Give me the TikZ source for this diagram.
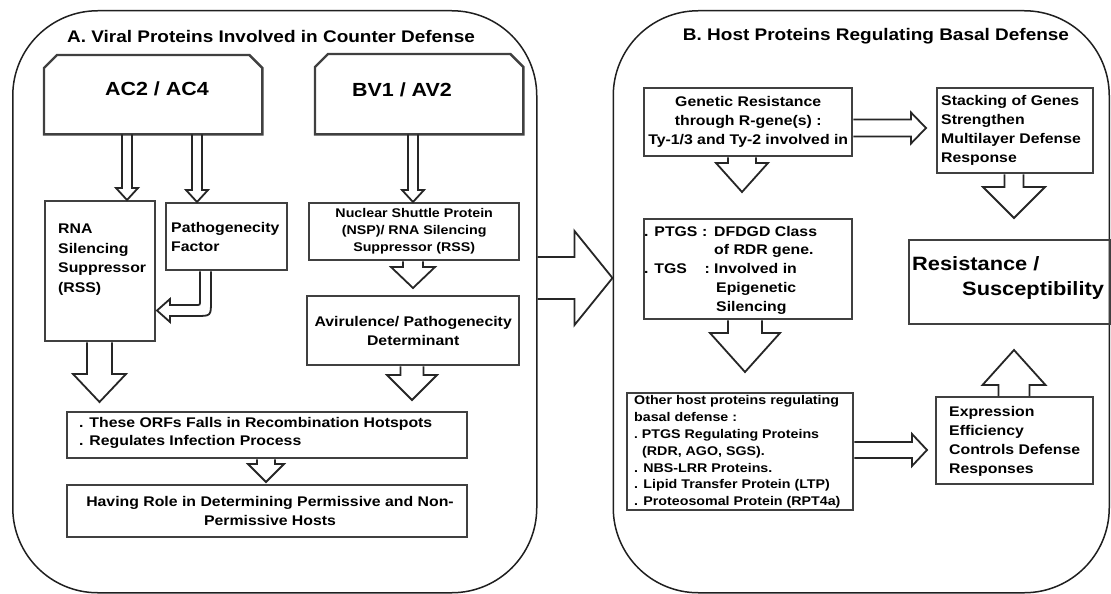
\documentclass[tikz,border=0pt]{standalone}
\usepackage{fontspec}
\setmainfont{Liberation Sans}[FakeStretch=1.13]
\usetikzlibrary{calc}
\newcommand\fsz[2]{\fontsize{#1}{#2}\selectfont\bfseries}
% vertical block arrow: from, to(tip), shaft half, head half, head length
\newcommand\varr[5]{\draw[blk] let \p1=(#1), \p2=(#2), \n1={sign(\y2-\y1)} in
 (\x2-#3pt,\y1) -- (\x2-#3pt,{\y2-(\n1)*#5pt}) -- (\x2-#4pt,{\y2-(\n1)*#5pt}) -- (\x2,\y2)
 -- (\x2+#4pt,{\y2-(\n1)*#5pt}) -- (\x2+#3pt,{\y2-(\n1)*#5pt}) -- (\x2+#3pt,\y1);}
% horizontal block arrow
\newcommand\harr[5]{\draw[blk] let \p1=(#1), \p2=(#2), \n1={sign(\x2-\x1)} in
 (\x1,\y2+#3pt) -- ({\x2-(\n1)*#5pt},\y2+#3pt) -- ({\x2-(\n1)*#5pt},\y2+#4pt) -- (\x2,\y2)
 -- ({\x2-(\n1)*#5pt},\y2-#4pt) -- ({\x2-(\n1)*#5pt},\y2-#3pt) -- (\x1,\y2-#3pt);}
\begin{document}
\begin{tikzpicture}[x=1pt,y=-1pt,
  panel/.style={draw=black!88, line width=1.5pt, rounded corners=85pt, anchor=north west, inner sep=0pt},
  box/.style={draw=black!75, line width=2.4pt, anchor=north west, inner sep=0pt},
  boxline/.style={draw=black!75, line width=2.4pt, line join=miter},
  blk/.style={draw=black!85, line width=1.8pt, line join=miter},
  txt/.style={inner sep=0pt, text=black}]
\useasboundingbox (0,0) rectangle (1111,594);
\fill[white] (0,0) rectangle (1111,594);

% panels
\node[panel, minimum width=524, minimum height=582] (pa) at (12,10) {};
\node[panel, minimum width=496, minimum height=582] (pb) at (612.5,10) {};
\node[txt] (ta) at (271,36) {\fsz{16.8}{20}A. Viral Proteins Involved in Counter Defense};
\node[txt] (tb) at (876,36) {\fsz{16.8}{20}B. Host Proteins Regulating Basal Defense};

% ---------- panel A ----------
\node[box, draw=none, minimum width=216, minimum height=77] (ac2) at (44,55) {};
\draw[boxline] (ac2.south west) -- ($(ac2.north west)+(0,13)$) -- ($(ac2.north west)+(13,0)$)
  -- ($(ac2.north east)+(-13,0)$) -- ($(ac2.north east)+(0,13)$) -- (ac2.south east) -- cycle;
\node[txt] (ac2t) at (157,88.5) {\fsz{19}{22}AC2 / AC4};

\node[box, draw=none, minimum width=206, minimum height=78] (bv1) at (315,54) {};
\draw[boxline] (bv1.south west) -- ($(bv1.north west)+(0,13)$) -- ($(bv1.north west)+(13,0)$)
  -- ($(bv1.north east)+(-13,0)$) -- ($(bv1.north east)+(0,13)$) -- (bv1.south east) -- cycle;
\node[txt] (bv1t) at (402,89.5) {\fsz{19}{22}BV1 / AV2};

\node[box, minimum width=110, minimum height=140] (rss) at (44,200) {};
\node[txt, anchor=west, align=left, font=\fsz{14}{19.6}] (rsst) at (58,259.5) {RNA\\Silencing\\Suppressor\\(RSS)};

\node[box, minimum width=121, minimum height=67] (pf) at (165,202) {};
\node[txt, anchor=west, align=left, font=\fsz{14}{19}] (pft) at (171,237) {Pathogenecity\\Factor};

\node[box, minimum width=210, minimum height=57, align=center, font=\fsz{12.6}{17}] (nsp) at (308,202)
  {Nuclear Shuttle Protein\\(NSP)/ RNA Silencing\\Suppressor (RSS)};

\node[box, minimum width=212, minimum height=69, align=center, font=\fsz{14}{19}] (avir) at (306,295)
  {Avirulence/ Pathogenecity\\Determinant};

\node[box, minimum width=400, minimum height=46] (orf) at (66,411) {};
\node[txt, anchor=west, align=left, font=\fsz{14}{18.5}] (orft) at (79,433)
  {. These ORFs Falls in Recombination Hotspots\\. Regulates Infection Process};

\node[box, minimum width=400, minimum height=52] (hav) at (66,484) {};
\node[txt, align=center, font=\fsz{14}{19.5}] (havt) at (270,511)
  {Having Role in Determining Permissive and Non-\\Permissive Hosts};

% arrows panel A
\coordinate (t4) at (413,288);
\coordinate (t5) at (412,400);
\coordinate (t6) at (99.5,402);
\coordinate (t7) at (266,482);
\varr{ac2.south -| 127,0}{rss.north -| 127,0}{5}{11}{12}
\varr{ac2.south -| 197,0}{pf.north -| 197,0}{5}{11}{12}
\varr{bv1.south -| 413,0}{nsp.north -| 413,0}{5}{11}{12}
\varr{nsp.south -| 413,0}{t4}{10}{22}{21}
\varr{avir.south -| 412,0}{t5}{11.5}{25}{25}
\varr{rss.south -| 99.5,0}{t6}{12.5}{26.5}{28}
\varr{orf.south -| 266,0}{t7}{9}{18}{18}
\draw[blk] (pf.south -| 200,0) -- (200,301) .. controls (200,305) .. (196,305) -- (170,305) -- (170,299)
  -- (157,310.5) -- (170,322) -- (170,316) -- (196,316) .. controls (211,316) .. (211,301) -- (pf.south -| 211,0);

% big arrow between panels
\harr{pa.east |- 0,278}{pb.west |- 0,278}{21}{47}{38}

% ---------- panel B ----------
\node[box, minimum width=208, minimum height=68, align=center, font=\fsz{14}{19}] (gen) at (643,87)
  {Genetic Resistance\\through R-gene(s) :\\Ty-1/3 and Ty-2 involved in};

\node[box, minimum width=156, minimum height=85] (stk) at (936,87) {};
\node[txt, anchor=west, align=left, font=\fsz{14}{19}] (stkt) at (941,130)
  {Stacking of Genes\\Strengthen\\Multilayer Defense\\Response};

\node[box, minimum width=208, minimum height=100] (ptgs) at (643,218) {};
\node[txt, anchor=west, align=left, font=\fsz{14}{18.75}] (ptgst) at (644,270)
  {\makebox[58pt][l]{. PTGS}\makebox[12pt][l]{:}DFDGD Class\\
   \hspace*{70pt}of RDR gene.\\
   \makebox[58pt][l]{. TGS}\makebox[12pt][l]{\,:}Involved in\\
   \hspace*{72pt}Epigenetic\\
   \hspace*{72pt}Silencing};

\node[box, minimum width=200.5, minimum height=84] (res) at (908,239) {};
\node[txt, anchor=west, align=left, font=\fsz{19.3}{25}] (rest) at (912,278.5)
  {Resistance /\\\hspace*{50pt}Susceptibility};

\node[box, minimum width=226, minimum height=117] (oth) at (626,392) {};
\node[txt, anchor=west, align=left, font=\fsz{12.6}{16.8}] (otht) at (634,452)
  {Other host proteins regulating\\basal defense :\\{\large.}\ PTGS Regulating Proteins\\
   \hspace*{8pt}(RDR, AGO, SGS).\\. NBS-LRR Proteins.\\. Lipid Transfer Protein (LTP)\\. Proteosomal Protein (RPT4a)};

\node[box, minimum width=157, minimum height=87] (exp) at (935,396) {};
\node[txt, anchor=west, align=left, font=\fsz{14}{19}] (expt) at (949,441)
  {Expression\\Efficiency\\Controls Defense\\Responses};

% arrows panel B
\coordinate (u8) at (926,128);
\coordinate (u9) at (742,192);
\coordinate (u10) at (1014,218);
\coordinate (u11) at (745,372);
\coordinate (u12) at (927,450);
\coordinate (u13) at (1014,350);
\harr{gen.east |- 0,128}{u8}{8.5}{15.5}{15}
\varr{gen.south -| 742,0}{u9}{14}{26}{29}
\varr{stk.south -| 1014,0}{u10}{9.5}{31}{31}
\varr{ptgs.south -| 745,0}{u11}{17}{35}{39}
\harr{oth.east |- 0,450}{u12}{8}{16}{15}
\varr{exp.north -| 1014,0}{u13}{15.5}{31.5}{35}
\end{tikzpicture}
\end{document}
